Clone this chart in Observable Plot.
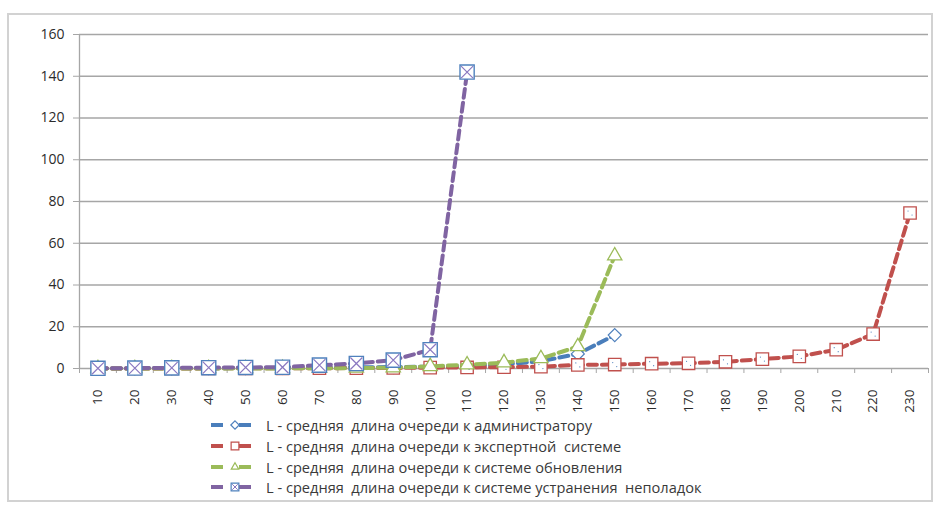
<!DOCTYPE html>
<html>
<head>
<meta charset="utf-8">
<script src="https://cdn.jsdelivr.net/npm/d3@7"></script>
<script src="https://cdn.jsdelivr.net/npm/@observablehq/plot@0.6"></script>
<style>
  html, body { margin: 0; padding: 0; background: #fff; }
  #box { position: absolute; left: 7px; top: 13px; width: 922px; height: 485px; border: 2px solid #d2d2d2; }
  #chart { position: absolute; left: 0; top: 0; }
  #legend { position: absolute; left: 200px; top: 400px; font-family: "Open Sans", "Noto Sans", sans-serif; font-size: 14.6px; color: #3a3a3a; }
  .row { display: flex; align-items: center; height: 20.7px; }
  .row svg { margin-right: 5px; }
</style>
</head>
<body>
<div id="box"><div id="chart"></div><div id="legend"></div></div>
<script>
const categories = [10,20,30,40,50,60,70,80,90,100,110,120,130,140,150,160,170,180,190,200,210,220,230];
const adminValues  = [0.02,0.05,0.1,0.15,0.2,0.3,0.4,0.5,0.7,0.9,1.3,2,3.5,7,16];
const expertValues = [0,0,0,0.05,0.1,0.1,0.15,0.2,0.25,0.4,0.5,0.6,0.9,1.7,1.9,2.3,2.5,3.2,4.5,5.8,9,16.5,74.5];
const updateValues = [0,0,0,0,0,0.05,0.1,0.2,0.4,1,1.8,2.8,4.8,10.5,54];
const repairValues = [0.1,0.2,0.3,0.4,0.5,0.6,1.6,2.4,4,9,142];
const yTicks = [0,20,40,60,80,100,120,140,160];

const seriesNames = [
  "L - средняя  длина очереди к администратору",
  "L - средняя  длина очереди к экспертной  системе",
  "L - средняя  длина очереди к системе обновления",
  "L - средняя  длина очереди к системе устранения  неполадок"
];
const lineColors = ["#4a7ebb", "#c0504d", "#9bbb59", "#8064a2"];
const markerColors = ["#4f81bd", "#c0504d", "#9bbb59", "#4f81bd"];

// square diamond symbol (rotated square)
const diamondSym = {
  draw(context, size) {
    const h = Math.sqrt(size / Math.PI);
    context.moveTo(0, -h); context.lineTo(h, 0); context.lineTo(0, h); context.lineTo(-h, 0); context.closePath();
  }
};

const allValues = [adminValues, expertValues, updateValues, repairValues];
const series = allValues.map((vals, i) => vals.map((v, j) => ({x: categories[j], y: v, s: i})));

const step = categories[1] - categories[0];
const xDomain = [categories[0] - step / 2, categories[categories.length - 1] + step / 2];
const boundaries = [...categories.map(c => c - step / 2), xDomain[1]];

const dash = "9,5";
const marks = [
  Plot.gridY(yTicks, {stroke: "#a6a6a6", strokeOpacity: 1, strokeWidth: 1.3}),
  Plot.ruleX([xDomain[0]], {stroke: "#a6a6a6", strokeWidth: 1.3}),
  Plot.axisY(yTicks, {tickSize: 6, tickPadding: 9, fontSize: 14, stroke: "#a6a6a6", label: null, fill: "#2b2b2b"}),
  Plot.axisX(boundaries, {tickSize: 5, tickFormat: () => "", stroke: "#a6a6a6", strokeOpacity: 1, label: null}),
  Plot.axisX(categories, {tickSize: 0, tickPadding: 21, tickRotate: -90, fontSize: 13.5, fill: "#2b2b2b", label: null})
];
series.forEach((data, i) => {
  marks.push(Plot.line(data, {x: "x", y: "y", stroke: lineColors[i], strokeWidth: 4, strokeDasharray: dash}));
  if (i === 0) marks.push(Plot.dot(data, {x: "x", y: "y", symbol: diamondSym, r: 6.5, stroke: markerColors[i], fill: "white", strokeWidth: 1.2}));
  if (i === 1) {
    marks.push(Plot.dot(data, {x: "x", y: "y", symbol: "square", r: 7, stroke: markerColors[i], fill: "white", strokeWidth: 1.3}));
    marks.push(Plot.dot(data, {x: "x", y: "y", r: 0.6, fill: "#4f81bd", dx: -2, dy: -2}));
    marks.push(Plot.dot(data, {x: "x", y: "y", r: 0.6, fill: "#4f81bd", dx: 2, dy: 2}));
  }
  if (i === 2) marks.push(Plot.dot(data, {x: "x", y: "y", symbol: "triangle", r: 5.3, stroke: markerColors[i], fill: "white", strokeWidth: 1.3}));
  if (i === 3) {
    marks.push(Plot.dot(data, {x: "x", y: "y", symbol: "square", r: 8, stroke: markerColors[i], fill: "white", strokeWidth: 1.4}));
    marks.push(Plot.dot(data, {x: "x", y: "y", symbol: "times", r: 5.5, stroke: "#8a78c0", strokeWidth: 1.2}));
  }
});

const chart = Plot.plot({
  width: 922,
  height: 400,
  marginLeft: 70,
  marginRight: 3,
  marginTop: 19,
  marginBottom: 47,
  style: {fontFamily: "'Open Sans', 'Noto Sans', sans-serif", background: "white"},
  x: {type: "linear", domain: xDomain},
  y: {domain: [0, 160]},
  marks
});
document.getElementById("chart").appendChild(chart);

// legend
const legend = document.getElementById("legend");
const symbols = ["diamond", "square", "triangle", "squarex"];
seriesNames.forEach((name, i) => {
  const row = document.createElement("div");
  row.className = "row";
  const ns = "http://www.w3.org/2000/svg";
  const svg = document.createElementNS(ns, "svg");
  svg.setAttribute("width", 52); svg.setAttribute("height", 14);
  const line = document.createElementNS(ns, "line");
  line.setAttribute("x1", 2); line.setAttribute("x2", 50); line.setAttribute("y1", 7); line.setAttribute("y2", 7);
  line.setAttribute("stroke", lineColors[i]); line.setAttribute("stroke-width", 4);
  line.setAttribute("stroke-dasharray", "12,8,0,8,12");
  svg.appendChild(line);
  const g = document.createElementNS(ns, "path");
  const type = symbols[i];
  const sym = type === "diamond" ? diamondSym : type === "triangle" ? d3.symbolTriangle2 : d3.symbolSquare;
  const size = type === "diamond" ? 55 : type === "triangle" ? 40 : 60;
  g.setAttribute("d", d3.symbol(sym, size)());
  g.setAttribute("transform", "translate(26,7)");
  g.setAttribute("fill", "white"); g.setAttribute("stroke", markerColors[i]); g.setAttribute("stroke-width", 1.2);
  svg.appendChild(g);
  if (type === "squarex") {
    const x = document.createElementNS(ns, "path");
    x.setAttribute("d", d3.symbol(d3.symbolTimes, 22)());
    x.setAttribute("transform", "translate(26,7)");
    x.setAttribute("stroke", "#8a78c0"); x.setAttribute("fill", "none");
    svg.appendChild(x);
  }
  row.appendChild(svg);
  const span = document.createElement("span");
  span.textContent = name;
  span.style.whiteSpace = "pre";
  row.appendChild(span);
  legend.appendChild(row);
});
</script>
</body>
</html>
